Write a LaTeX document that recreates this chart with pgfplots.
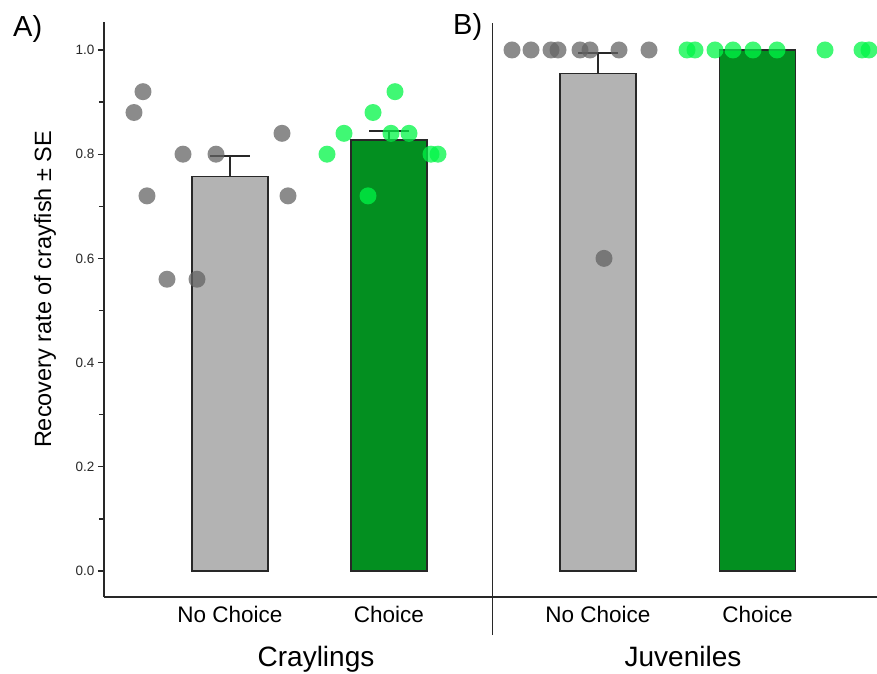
\documentclass[border=0pt]{standalone}
\usepackage{pgfplots}
\pgfplotsset{compat=1.18}
\usepackage{fontspec}
\setmainfont{Liberation Sans}
\definecolor{bargray}{RGB}{179,179,179}
\definecolor{bargreen}{RGB}{3,143,32}
\definecolor{ptgray}{RGB}{100,100,100}
\definecolor{ptgreen}{RGB}{0,245,70}
\definecolor{edge}{RGB}{40,40,40}
\begin{document}
\begin{tikzpicture}
\path[use as bounding box] (-104pt,-76pt) rectangle (773pt,597pt);
\begin{axis}[
  at={(0pt,0pt)}, anchor=south west,
  scale only axis, width=773pt, height=575pt,
  xmin=104, xmax=877, ymin=-0.0499, ymax=1.0537,
  clip=false,
  axis x line=bottom, axis y line=left,
  axis line style={edge, line width=1.8pt, -},
  xtick={230,389,598,757.5},
  xticklabels={No Choice, Choice, No Choice, Choice},
  x tick style={draw=none},
  xticklabel style={font=\fontsize{22.5}{25}\selectfont, yshift=0pt},
  ytick={0,0.2,0.4,0.6,0.8,1.0},
  minor ytick={0.1,0.3,0.5,0.7,0.9},
  y tick style={edge, line width=1.2pt},
  tick align=outside,
  major tick length=6pt, minor tick length=5pt,
  yticklabel style={font=\fontsize{13.5}{15}\selectfont, text=edge, /pgf/number format/.cd, fixed, precision=1, zerofill},
  /pgf/number format/assume math mode=true,
  ylabel={Recovery rate of crayfish ± SE},
  ylabel style={at={(axis description cs:-0.0763,0.535)}, anchor=center, font=\fontsize{23.5}{26}\selectfont},
]
% bars
\addplot[ybar, bar width=76, bar shift=0pt, fill=bargray, draw=edge, line width=1.6pt,
  error bars/.cd, y dir=plus, y explicit,
  error bar style={edge, line width=2pt},
  error mark options={edge, line width=2pt, mark size=20pt, rotate=90}]
  coordinates {(230,0.757) +- (0,0.040) (598,0.955) +- (0,0.039)};
\addplot[ybar, bar width=76, bar shift=0pt, fill=bargreen, draw=edge, line width=1.6pt,
  error bars/.cd, y dir=plus, y explicit,
  error bar style={edge, line width=2pt},
  error mark options={edge, line width=2pt, mark size=20pt, rotate=90}]
  coordinates {(389,0.827) +- (0,0.018) (757.5,1.0) +- (0,0.0)};
% points
\addplot[only marks, color=ptgray, mark=*, mark size=8.5pt, mark options={ptgray, draw opacity=0, fill opacity=0.75}]
  coordinates {(143,0.92) (134,0.88) (183,0.80) (216,0.80) (147,0.72) (282,0.84) (288,0.72) (167,0.56) (197,0.56)
               (512,1) (531,1) (551,1) (558,1) (580,1) (590,1) (619,1) (649,1) (604,0.6)};
\addplot[only marks, color=ptgreen, mark=*, mark size=8.5pt, mark options={ptgreen, draw opacity=0, fill opacity=0.75}]
  coordinates {(395,0.92) (373,0.88) (344,0.84) (391,0.84) (409,0.84) (327,0.80) (431,0.80) (438,0.80) (368,0.72)
               (687,1) (695,1) (715,1) (733,1) (753,1) (777,1) (825,1) (862,1) (869,1)};
\end{axis}
\draw[edge, line width=1.8pt] (388.5pt,-38pt) -- (388.5pt,574pt);
\node[anchor=base, font=\fontsize{28}{32}\selectfont] at (212pt,-69pt) {Craylings};
\node[anchor=base, font=\fontsize{28}{32}\selectfont] at (579pt,-69pt) {Juveniles};
\node[anchor=base west, inner sep=0pt, font=\fontsize{29}{32}\selectfont] at (-91pt,560pt) {A)};
\node[anchor=base west, inner sep=0pt, font=\fontsize{29}{32}\selectfont] at (349pt,562pt) {B)};
\end{tikzpicture}
\end{document}
